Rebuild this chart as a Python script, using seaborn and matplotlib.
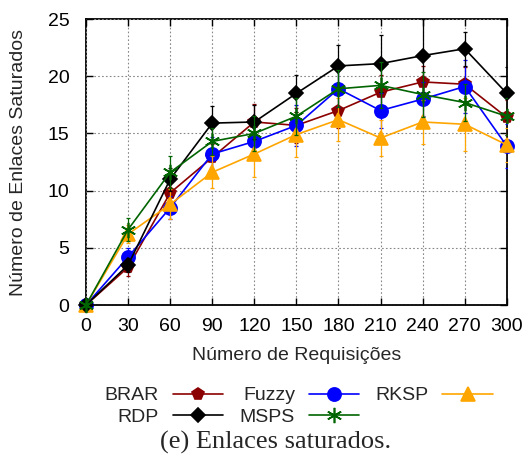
import numpy as np
import pandas as pd
import seaborn as sns
import matplotlib

matplotlib.use('Agg')
import matplotlib.pyplot as plt

# --- DADOS ---
requisicoes = [0, 30, 60, 90, 120, 150, 180, 210, 240, 270, 300]

brar = [0, 3.3, 9.8, 12.9, 16.0, 15.7, 17.0, 18.6, 19.5, 19.3, 16.4]
fuzzy = [0, 4.2, 8.5, 13.2, 14.3, 15.7, 18.9, 17.0, 18.0, 19.1, 13.9]
rksp = [0, 6.2, 8.8, 11.6, 13.2, 14.9, 16.2, 14.6, 16.0, 15.8, 14.0]
rdp = [0, 3.5, 11.0, 15.9, 16.0, 18.5, 20.9, 21.1, 21.8, 22.4, 18.5]
msps = [0, 6.6, 11.6, 14.3, 15.0, 16.5, 18.9, 19.2, 18.4, 17.7, 16.5]

brar_err = [0, 0.8, 1.0, 1.2, 1.6, 1.5, 1.5, 1.5, 1.4, 1.5, 1.5]
fuzzy_err = [0, 0.8, 1.0, 1.5, 1.3, 1.8, 1.6, 1.5, 1.5, 2.3, 1.9]
rksp_err = [0, 0.8, 1.3, 1.4, 2.0, 2.0, 1.9, 1.6, 1.9, 2.3, 1.5]
rdp_err = [0, 0.6, 1.0, 1.5, 1.5, 1.6, 1.8, 2.5, 3.2, 1.5, 2.3]
msps_err = [0, 1.0, 1.4, 1.2, 1.5, 1.6, 1.6, 2.0, 2.0, 1.6, 1.6]

# ordem pensada para o preenchimento por colunas da legenda
series = [
    ("BRAR", brar, brar_err, "#8B0000", "p", 8.5),
    ("RDP", rdp, rdp_err, "black", "D", 7),
    ("Fuzzy", fuzzy, fuzzy_err, "blue", "o", 9.5),
    ("MSPS", msps, msps_err, "#006400", (6, 2, 0), 11),
    ("RKSP", rksp, rksp_err, "orange", "^", 9.5),
]

sns.set_theme(style="ticks")
plt.rcParams['font.family'] = ['Liberation Sans', 'DejaVu Sans']

fig = plt.figure(figsize=(5.29, 4.58), dpi=100)
ax = fig.add_axes([0.1626, 0.334, 0.7954, 0.6245])

# desenha na ordem de empilhamento do original
draw_order = ["BRAR", "Fuzzy", "RKSP", "RDP", "MSPS"]
handles = {}
for name in draw_order:
    label, vals, errs, color, marker, ms = [s for s in series if s[0] == name][0]
    df = pd.DataFrame({"x": requisicoes, "y": vals})
    ax.errorbar(requisicoes, vals, yerr=errs, fmt='none', ecolor=color,
                elinewidth=0.9, capsize=1.5, capthick=0.9)
    sns.lineplot(data=df, x="x", y="y", ax=ax, color=color, marker=marker,
                 markersize=ms, markeredgecolor=color, markeredgewidth=1.2,
                 linewidth=1.2, label=label, legend=False, clip_on=False)
    handles[name] = ax.lines[-1]

ax.set_xlim(0, 300)
ax.set_ylim(0, 25)
ax.set_xticks(requisicoes)
ax.set_yticks([0, 5, 10, 15, 20, 25])
ax.tick_params(direction='in', top=True, right=True, length=5, width=1,
               labelsize=14, colors='black')
ax.tick_params(axis='x', pad=9)
ax.tick_params(axis='y', pad=12)
ax.grid(True, linestyle=(0, (1.5, 2)), color='#888888', linewidth=0.8)
for sp in ax.spines.values():
    sp.set_linewidth(1.3)
    sp.set_color('black')
    sp.set_zorder(0.5)

ax.set_xlabel("Número de Requisições", fontsize=14, labelpad=9)
ax.set_ylabel("Número de Enlaces Saturados", fontsize=14, labelpad=15)

leg_handles = [handles[s[0]] for s in series]
leg_labels = [s[0] for s in series]
fig.legend(leg_handles, leg_labels, loc='center', bbox_to_anchor=(0.565, 0.113),
           ncol=3, markerfirst=False, frameon=False, fontsize=14,
           handlelength=2.6, columnspacing=0.85, labelspacing=0.18,
           handletextpad=0.7)

fig.text(0.52, 0.035, "(e) Enlaces saturados.", ha='center', va='center',
         fontsize=19, family=['Liberation Serif', 'DejaVu Serif'])

fig.savefig("out.png", dpi=100)
